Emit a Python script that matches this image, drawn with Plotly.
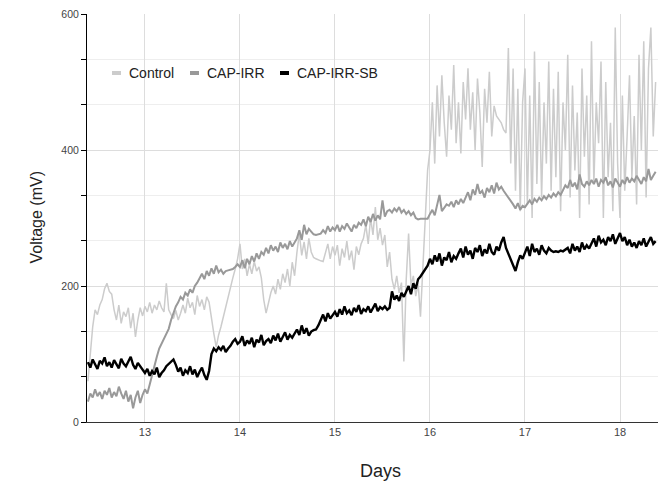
import numpy as np
import plotly.graph_objects as go

# sampling grid (days), 0.025-day spacing, 12.400 .. 18.375
days = np.round(12.4 + 0.025 * np.arange(240), 3)

control = [
    # 12.400 - 12.975
    60, 100, 140, 165, 158, 172, 180, 196, 204, 192, 188, 165, 150, 172, 145, 162, 155, 168, 138, 160, 125, 150, 168, 156,
    # 13.000 - 13.975
    170, 162, 176, 160, 172, 165, 178, 168, 162, 204, 165,
    158, 152, 164, 150, 160,
    172, 160, 182, 168, 176, 158, 186, 170, 180, 165, 184, 176,
    150, 130, 110, 128,
    140, 155, 170, 185, 200, 212, 225, 240,
    # 14.000 - 14.975
    262, 225, 240, 215, 232, 218, 236, 222, 228, 212,
    180, 160, 175, 190,
    200, 188, 210, 195, 218, 205, 225, 200, 235, 215,
    250, 277, 245, 265, 240, 270, 250,
    242, 240, 238, 237, 236,
    250, 262, 240, 258,
    # 15.000 - 15.975
    245, 260, 230, 255, 242, 266, 238, 252, 224, 258, 246, 262,
    270, 290, 262, 300, 275, 316, 268, 285,
    260, 275, 228, 250,
    210, 195, 215, 190, 205,
    89,
    210, 277, 200, 215,
    185, 204, 155, 230, 300, 370,
    # 16.000 - 16.975
    400, 470, 380, 495, 420, 510, 440, 390, 480, 430, 525, 410, 470,
    395, 500, 445, 520, 430, 485, 400, 505, 455, 375, 490, 440, 515, 420, 465,
    450, 445, 440, 430, 425,
    550, 380, 520, 340, 490, 310, 470,
    # 17.000 - 17.975
    520, 320, 480, 300, 545, 350, 500, 330, 470, 380, 530, 340, 490,
    360, 515, 310, 470, 400, 540, 330, 495, 370, 455, 300, 520, 390, 480,
    320, 560, 350, 470, 410, 530, 300, 500, 360, 440, 310, 580, 380,
    # 18.000 - 18.375
    300, 480, 340, 420, 510, 360, 450, 320, 540, 400, 560, 330, 520, 580, 420, 500,
]

cap_irr = [
    # 12.400 - 12.975
    30, 42, 36, 48, 38, 44, 34, 46, 40, 50, 36, 44, 38, 52, 42, 34, 46, 30, 40, 20, 36, 46, 28, 40,
    # 13.000 - 13.975
    48, 42, 55,
    70, 85, 96, 108, 115, 124, 130, 137,
    150, 160, 170,
    176, 184, 180, 190, 186, 195, 190, 200, 205,
    212, 218, 210, 222, 215, 226, 218, 230, 220, 224, 218,
    222, 223, 224, 225, 228, 232,
    # 14.000 - 14.975
    228, 238, 226, 240, 232, 244, 236, 248, 240, 250,
    246, 256, 248, 260, 252, 258, 250, 264, 256, 262, 254, 266, 258, 264,
    270, 282, 268, 290, 276, 284, 280,
    276, 275, 276, 277,
    282, 278, 288, 280, 286,
    # 15.000 - 15.975
    282, 290, 280, 288, 284, 292, 286, 280, 290, 285, 293,
    290, 298, 288, 302, 294, 306, 296, 304, 298, 326, 302, 310,
    312, 308, 314, 310, 316, 308, 312, 306, 310, 304, 308,
    300, 298, 299, 299, 299, 299,
    # 16.000 - 16.975
    306, 312, 304, 318, 334, 310, 316, 320,
    318, 324, 316, 326, 320, 328, 322,
    330, 338, 326, 342, 334, 350, 336, 340, 330, 344, 338, 348, 336, 352, 342, 346,
    340, 335, 330, 326,
    320, 314, 322, 312, 318,
    # 17.000 - 17.975
    316, 322, 326, 320, 328, 324, 330, 326, 332, 328, 334, 330, 336, 332, 338, 334,
    340, 348, 344, 356, 346, 352, 342, 364, 350, 346, 354, 348, 356,
    350, 358, 346, 356, 352, 360, 348, 354, 345, 358, 352,
    # 18.000 - 18.375
    346, 356, 350, 360, 352, 358, 354, 362, 356, 350, 360, 354, 372, 356, 362, 368,
]

cap_irr_sb = [
    # 12.400 - 12.975
    88, 80, 92, 84, 78, 90, 86, 95, 82, 88, 80, 91, 85, 79, 93, 86, 82, 89, 96, 84, 78, 87, 82, 76,
    # 13.000 - 13.975
    72, 78, 68, 75, 70, 80, 66, 72,
    76, 82, 85, 88, 92, 84,
    74, 80, 68, 76, 72, 82, 70, 77, 66, 74, 80, 69, 62, 75,
    100, 108, 104, 110, 106, 112, 103, 108, 112, 118, 122, 115,
    # 14.000 - 14.975
    118, 126, 112, 120, 115, 124, 110, 121, 117, 128, 113, 119,
    122, 116, 127, 120, 130, 118, 125, 132, 121, 128, 124, 131,
    136, 128, 142, 130, 138, 127,
    133, 135, 136,
    142, 150, 158, 148, 160, 152, 157,
    # 15.000 - 15.975
    162, 155, 166, 158, 170, 160, 164, 157, 168, 162, 172, 159, 166, 163, 170, 161, 167, 174, 163, 169,
    166, 170, 165, 168,
    192, 180, 186, 178, 190, 184,
    192, 200, 188, 204, 196, 210,
    214, 220, 225, 230,
    # 16.000 - 16.975
    240, 232, 245, 236, 248, 230, 242, 238, 250, 235, 244, 240,
    248, 255, 242, 258, 246, 252, 240, 256, 250, 260, 244, 254, 248, 262, 250, 246, 258, 252, 264,
    272, 256, 248, 240, 232, 222, 235, 245, 240,
    # 17.000 - 17.975
    250, 258, 244, 262, 250, 255, 246, 260, 252, 248, 256,
    252, 250, 251, 250, 252, 251, 253,
    256, 248, 262, 252, 258, 250, 264, 254, 260, 255,
    262, 270, 258, 274, 264, 268, 260, 272, 266, 276, 262, 270,
    # 18.000 - 18.375
    278, 266, 272, 260, 268, 258, 264, 256, 266, 260, 270, 258, 264, 272, 262, 266,
]

series_names = ["Control", "CAP-IRR", "CAP-IRR-SB"]
series_colors = ["#cccccc", "#999999", "#000000"]
series_widths = [1.5, 2, 2.4]
x_ticks = [13, 14, 15, 16, 17, 18]
y_ticks = [0, 200, 400, 600]

FONT = "Arial, 'Liberation Sans', sans-serif"

fig = go.Figure()
for name, vals, col, w in zip(series_names, [control, cap_irr, cap_irr_sb], series_colors, series_widths):
    fig.add_trace(go.Scatter(x=days, y=vals, mode="lines", name=name,
                             line=dict(color=col, width=w), showlegend=False))

fig.update_layout(
    width=662, height=493,
    margin=dict(l=87, r=4, t=14, b=71),
    paper_bgcolor="white", plot_bgcolor="white",
    font=dict(family=FONT, color="#444444"),
)
fig.update_xaxes(
    range=[12.39, 18.4], tickmode="array", tickvals=x_ticks,
    showgrid=True, gridcolor="#dddddd", gridwidth=1,
    showline=True, linecolor="#333333", linewidth=1,
    ticks="", tickfont=dict(size=11, color="#444444"), zeroline=False,
)
fig.update_yaxes(
    range=[0, 600], tickmode="array", tickvals=y_ticks,
    showgrid=True, gridcolor="#dddddd", gridwidth=1,
    showline=True, linecolor="#000000", linewidth=1,
    ticks="outside", ticklen=5, tickcolor="#000000",
    tickfont=dict(size=10.5, color="#444444"), zeroline=False,
    minor=dict(tick0=0, dtick=600 / 9, ticks="outside", ticklen=5, tickcolor="#000000",
               showgrid=True, gridcolor="#eeeeee", gridwidth=1),
)

# axis titles
fig.add_annotation(text="Voltage (mV)", xref="paper", yref="paper",
                   x=(25 - 87) / 571, y=0.5, textangle=-90, showarrow=False,
                   font=dict(size=16, color="#222222", family=FONT))
fig.add_annotation(text="Days", xref="paper", yref="paper",
                   x=(380 - 87) / 571, y=(422 - 483) / 408, showarrow=False,
                   font=dict(size=18, color="#222222", family=FONT))

# legend (custom, short dashes)
leg_y = (422 - 73) / 408
dash_x = [112, 190, 280]
text_x = [127, 205, 295]
for name, col, dx, tx in zip(series_names, series_colors, dash_x, text_x):
    fig.add_shape(type="line", xref="paper", yref="paper",
                  x0=(dx - 87) / 571, x1=(dx + 9 - 87) / 571, y0=leg_y, y1=leg_y,
                  line=dict(color=col, width=4))
    fig.add_annotation(text=name, xref="paper", yref="paper",
                       x=(tx - 87) / 571, y=leg_y, xanchor="left", yanchor="middle",
                       showarrow=False, font=dict(size=14, color="#222222", family=FONT))

fig.write_html("out.html", config={"displayModeBar": False},
               post_script="document.body.style.margin='0';")
